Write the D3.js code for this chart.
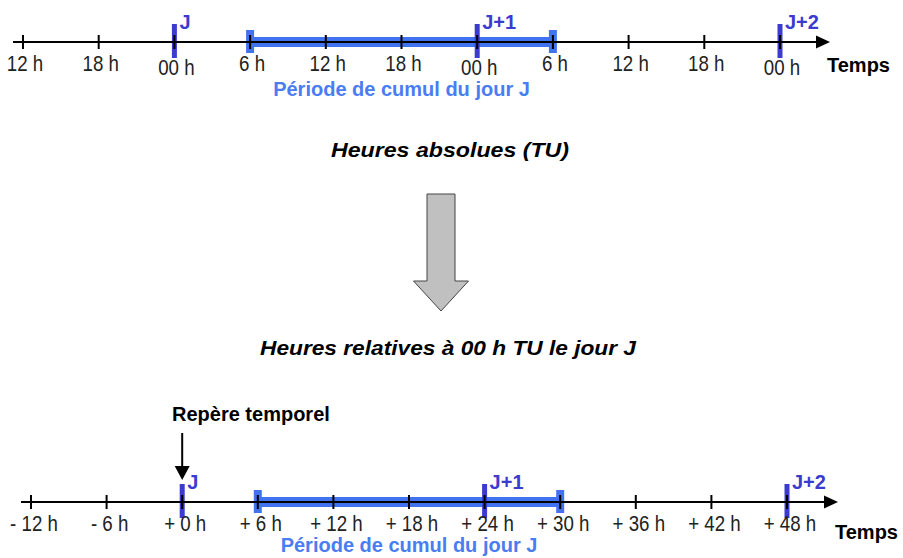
<!DOCTYPE html>
<html>
<head>
<meta charset="utf-8">
<script src="https://cdn.jsdelivr.net/npm/d3@7"></script>
<style>
  body { margin: 0; background: white; }
  svg { display: block; }
</style>
</head>
<body>
<svg width="903" height="558"></svg>
<script>
// Hours of each tick (relative to 00 h TU on day J)
const tickHours = [-12, -6, 0, 6, 12, 18, 24, 30, 36, 42, 48];
const absoluteLabels = ['12 h', '18 h', '00 h', '6 h', '12 h', '18 h', '00 h', '6 h', '12 h', '18 h', '00 h'];
const relativeLabels = ['- 12 h', '- 6 h', '+ 0 h', '+ 6 h', '+ 12 h', '+ 18 h', '+ 24 h', '+ 30 h', '+ 36 h', '+ 42 h', '+ 48 h'];

// Day boundaries
const dayHours = [0, 24, 48];
const dayLabels = ['J', 'J+1', 'J+2'];

// Accumulation period for day J
const cumulPeriod = [6, 30];
const cumulLabel = 'Période de cumul du jour J';
const repereHour = 0;

const font = 'Liberation Sans, Arial, sans-serif';
const barBlue = '#4172f0';
const dayBlue = '#3b3bd0';
const textBlue = '#4a7cf2';

const svg = d3.select('svg');

// Scales for the two time lines
const xTop = d3.scaleLinear().domain([-12, 48]).range([23, 780]);
const xBot = d3.scaleLinear().domain([-12, 48]).range([31, 787]);

function drawTimeline(x, y, labels, opts) {
  const g = svg.append('g');

  // accumulation bar
  g.append('rect')
    .attr('x', x(cumulPeriod[0])).attr('y', y - 5)
    .attr('width', x(cumulPeriod[1]) - x(cumulPeriod[0])).attr('height', 10)
    .attr('fill', barBlue);
  g.selectAll('.cap').data(cumulPeriod).join('rect')
    .attr('x', d => x(d) - 4).attr('y', y - 12)
    .attr('width', 8).attr('height', 23)
    .attr('fill', barBlue);

  // day markers
  g.selectAll('.day').data(dayHours).join('rect')
    .attr('x', d => x(d) - 2.5).attr('y', y - 18)
    .attr('width', 5).attr('height', 34)
    .attr('fill', dayBlue);
  g.selectAll('.daylabel').data(dayHours).join('text')
    .attr('x', d => x(d) + 5).attr('y', y - 13)
    .attr('font-family', font).attr('font-size', '20px').attr('font-weight', 'bold')
    .attr('fill', dayBlue)
    .text((d, i) => dayLabels[i]);

  // axis line + arrow
  g.append('line')
    .attr('x1', opts.x0).attr('x2', opts.x1 - 8)
    .attr('y1', y).attr('y2', y)
    .attr('stroke', 'black').attr('stroke-width', 2);
  g.append('path')
    .attr('d', `M${opts.x1},${y} L${opts.x1 - 14},${y - 6.5} L${opts.x1 - 14},${y + 6.5} Z`)
    .attr('fill', 'black');

  // ticks
  g.selectAll('.tick').data(tickHours).join('line')
    .attr('x1', d => x(d)).attr('x2', d => x(d))
    .attr('y1', y - 7).attr('y2', y + 7)
    .attr('stroke', 'black').attr('stroke-width', 2);

  // tick labels (narrow, tall font)
  g.selectAll('.ticklabel').data(tickHours).join('text')
    .attr('transform', (d, i) => {
      const dy = labels[i].startsWith('00') ? 4 : 0;
      return `translate(${x(d) + opts.dx},${y + opts.labelDy + dy}) scale(0.85,1)`;
    })
    .attr('text-anchor', 'middle')
    .attr('font-family', font).attr('font-size', '22px')
    .attr('fill', '#222')
    .text((d, i) => labels[i]);

  // "Temps"
  g.append('text')
    .attr('x', opts.x1 - 3).attr('y', y + opts.tempsDy)
    .attr('font-family', font).attr('font-size', '20px').attr('font-weight', 'bold')
    .attr('fill', 'black')
    .text('Temps');

  // period label
  g.append('text')
    .attr('x', x(d3.mean(cumulPeriod))).attr('y', y + opts.periodDy)
    .attr('text-anchor', 'middle')
    .attr('font-family', font).attr('font-size', '20px').attr('font-weight', 'bold')
    .attr('fill', textBlue)
    .text(cumulLabel);
}

drawTimeline(xTop, 42, absoluteLabels, { x0: 13, x1: 830, dx: 2, labelDy: 29, tempsDy: 30, periodDy: 54 });
drawTimeline(xBot, 502, relativeLabels, { x0: 21, x1: 838, dx: 3, labelDy: 29, tempsDy: 37, periodDy: 50 });

// titles
svg.append('text')
  .attr('x', 450).attr('y', 157)
  .attr('text-anchor', 'middle')
  .attr('font-family', font).attr('font-size', '20px')
  .attr('font-weight', 'bold').attr('font-style', 'italic')
  .attr('textLength', 238).attr('lengthAdjust', 'spacingAndGlyphs')
  .text('Heures absolues (TU)');

svg.append('text')
  .attr('x', 448).attr('y', 355)
  .attr('text-anchor', 'middle')
  .attr('font-family', font).attr('font-size', '20px')
  .attr('font-weight', 'bold').attr('font-style', 'italic')
  .attr('textLength', 376).attr('lengthAdjust', 'spacingAndGlyphs')
  .text('Heures relatives à 00 h TU le jour J');

// big gray arrow between the two views
const ax = 441;
svg.append('path')
  .attr('d', `M${ax - 14},194 H${ax + 14} V281 H${ax + 27.5} L${ax},311 L${ax - 27.5},281 H${ax - 14} Z`)
  .attr('fill', '#c0c0c0').attr('stroke', '#444').attr('stroke-width', 1);

// "Repère temporel" pointer
const rx = xBot(repereHour);
svg.append('text')
  .attr('x', 172).attr('y', 421)
  .attr('font-family', font).attr('font-size', '20px').attr('font-weight', 'bold')
  .attr('fill', 'black')
  .text('Repère temporel');
svg.append('line')
  .attr('x1', rx).attr('x2', rx).attr('y1', 433).attr('y2', 468)
  .attr('stroke', 'black').attr('stroke-width', 2);
svg.append('path')
  .attr('d', `M${rx - 7.5},466 L${rx + 7.5},466 L${rx},480 Z`)
  .attr('fill', 'black');
</script>
</body>
</html>
